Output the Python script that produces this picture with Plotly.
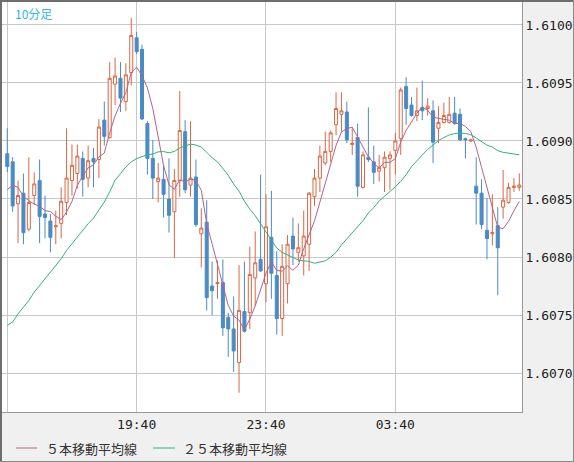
"""10分足チャート（ローソク足 + 5本/25本移動平均線）を Plotly で再現する。"""
import pandas as pd
import plotly.graph_objects as go

_MONO = "DejaVu Sans Mono, monospace"
_JP = "Noto Sans CJK JP, sans-serif"

ORANGE = "#dc6640"
BLUE = "#4a8bc4"
PINK = "#b4628e"
GREEN = "#2eb47b"
GRID = "#c8c8c8"
PANEL = "#f0f0f0"

# --- data -------------------------------------------------------------------
times = pd.date_range("2024-01-01 15:40", periods=96, freq="10min")

opens = [1.60889, 1.60882, 1.60846, 1.60855, 1.60824, 1.60853, 1.60866, 1.60837, 1.60831, 1.60826,
         1.60829, 1.60847, 1.60866, 1.60872, 1.60885, 1.60868, 1.60885, 1.60884, 1.60918, 1.60903,
         1.60949, 1.60954, 1.60934, 1.60959, 1.60989, 1.60979, 1.60915, 1.60885, 1.60865, 1.60867,
         1.60850, 1.60839, 1.60866, 1.60908, 1.60862, 1.60869, 1.60820, 1.60830, 1.60775, 1.60777,
         1.60778, 1.60748, 1.60738, 1.60709, 1.60753, 1.60752, 1.60782, 1.60798, 1.60777, 1.60817,
         1.60784, 1.60747, 1.60777, 1.60818, 1.60804, 1.60801, 1.60811, 1.60852, 1.60868, 1.60881,
         1.60891, 1.60914, 1.60923, 1.60925, 1.60897, 1.60903, 1.60860, 1.60886, 1.60882, 1.60874,
         1.60877, 1.60885, 1.60892, 1.60902, 1.60947, 1.60931, 1.60922, 1.60929, 1.60928, 1.60926,
         1.60911, 1.60916, 1.60916, 1.60924, 1.60923, 1.60902, 1.60900, 1.60861, 1.60855, 1.60823,
         1.60820, 1.60827, 1.60843, 1.60847, 1.60860, 1.60860]

highs = [1.60911, 1.60886, 1.60866, 1.60872, 1.60886, 1.60873, 1.60884, 1.60853, 1.60837, 1.60840,
         1.60860, 1.60911, 1.60897, 1.60897, 1.60891, 1.60896, 1.60894, 1.60919, 1.60934, 1.60968,
         1.60972, 1.60968, 1.60967, 1.61006, 1.60994, 1.60983, 1.60917, 1.60901, 1.60881, 1.60879,
         1.60885, 1.60876, 1.60943, 1.60918, 1.60917, 1.60884, 1.60842, 1.60849, 1.60796, 1.60797,
         1.60798, 1.60752, 1.60766, 1.60793, 1.60796, 1.60809, 1.60822, 1.60871, 1.60854, 1.60857,
         1.60805, 1.60811, 1.60819, 1.60834, 1.60829, 1.60840, 1.60856, 1.60876, 1.60896, 1.60908,
         1.60909, 1.60942, 1.60942, 1.60934, 1.60911, 1.60915, 1.60891, 1.60929, 1.60896, 1.60888,
         1.60891, 1.60891, 1.60907, 1.60946, 1.60955, 1.60938, 1.60946, 1.60952, 1.60937, 1.60935,
         1.60930, 1.60933, 1.60938, 1.60938, 1.60928, 1.60903, 1.60902, 1.60886, 1.60867, 1.60851,
         1.60854, 1.60843, 1.60875, 1.60864, 1.60868, 1.60872]

lows = [1.60873, 1.60839, 1.60812, 1.60811, 1.60822, 1.60845, 1.60812, 1.60816, 1.60804, 1.60811,
        1.60816, 1.60836, 1.60853, 1.60859, 1.60852, 1.60860, 1.60860, 1.60868, 1.60896, 1.60902,
        1.60931, 1.60925, 1.60926, 1.60948, 1.60975, 1.60918, 1.60871, 1.60850, 1.60847, 1.60834,
        1.60821, 1.60799, 1.60852, 1.60855, 1.60852, 1.60826, 1.60791, 1.60754, 1.60750, 1.60764,
        1.60732, 1.60714, 1.60701, 1.60683, 1.60735, 1.60738, 1.60758, 1.60787, 1.60761, 1.60764,
        1.60733, 1.60732, 1.60760, 1.60793, 1.60796, 1.60784, 1.60788, 1.60844, 1.60856, 1.60879,
        1.60882, 1.60905, 1.60908, 1.60898, 1.60888, 1.60852, 1.60859, 1.60882, 1.60863, 1.60865,
        1.60856, 1.60858, 1.60871, 1.60888, 1.60914, 1.60921, 1.60917, 1.60918, 1.60922, 1.60881,
        1.60898, 1.60915, 1.60915, 1.60914, 1.60900, 1.60885, 1.60899, 1.60828, 1.60824, 1.60798,
        1.60810, 1.60767, 1.60833, 1.60846, 1.60856, 1.60857]

closes = [1.60878, 1.60844, 1.60853, 1.60821, 1.60847, 1.60863, 1.60835, 1.60834, 1.60817, 1.60827,
          1.60848, 1.60868, 1.60879, 1.60887, 1.60867, 1.60883, 1.60882, 1.60912, 1.60904, 1.60954,
          1.60956, 1.60937, 1.60957, 1.60991, 1.60977, 1.60919, 1.60885, 1.60868, 1.60868, 1.60854,
          1.60836, 1.60866, 1.60909, 1.60858, 1.60868, 1.60828, 1.60825, 1.60765, 1.60771, 1.60778,
          1.60739, 1.60738, 1.60719, 1.60754, 1.60736, 1.60785, 1.60795, 1.60788, 1.60826, 1.60786,
          1.60747, 1.60792, 1.60811, 1.60807, 1.60808, 1.60818, 1.60855, 1.60868, 1.60887, 1.60891,
          1.60907, 1.60928, 1.60926, 1.60901, 1.60898, 1.60861, 1.60888, 1.60884, 1.60873, 1.60877,
          1.60886, 1.60888, 1.60900, 1.60944, 1.60928, 1.60922, 1.60926, 1.60926, 1.60930, 1.60899,
          1.60916, 1.60922, 1.60923, 1.60915, 1.60901, 1.60901, 1.60901, 1.60855, 1.60828, 1.60816,
          1.60821, 1.60808, 1.60849, 1.60860, 1.60861, 1.60862]

ma5 = [1.608580, 1.608620, 1.608600, 1.608520, 1.608486, 1.608456, 1.608438, 1.608400, 1.608392, 1.608352,
       1.608322, 1.608388, 1.608478, 1.608618, 1.608698, 1.608768, 1.608796, 1.608862, 1.608896, 1.609070,
       1.609216, 1.609326, 1.609416, 1.609590, 1.609636, 1.609562, 1.609458, 1.609280, 1.609034, 1.608788,
       1.608622, 1.608584, 1.608666, 1.608646, 1.608674, 1.608658, 1.608576, 1.608288, 1.608114, 1.607934,
       1.607756, 1.607582, 1.607490, 1.607456, 1.607372, 1.607464, 1.607578, 1.607716, 1.607860, 1.607960,
       1.607884, 1.607878, 1.607924, 1.607886, 1.607930, 1.608072, 1.608198, 1.608312, 1.608472, 1.608638,
       1.608816, 1.608962, 1.609078, 1.609106, 1.609120, 1.609028, 1.608948, 1.608864, 1.608808, 1.608766,
       1.608816, 1.608816, 1.608848, 1.608990, 1.609092, 1.609164, 1.609240, 1.609292, 1.609264, 1.609206,
       1.609194, 1.609186, 1.609180, 1.609150, 1.609154, 1.609124, 1.609082, 1.608946, 1.608772, 1.608602,
       1.608442, 1.608256, 1.608244, 1.608308, 1.608398, 1.608480]

ma25 = [1.607410, 1.607440, 1.607510, 1.607570, 1.607625, 1.607697, 1.607755, 1.607812, 1.607864, 1.607927,
        1.607985, 1.608057, 1.608115, 1.608172, 1.608230, 1.608287, 1.608336, 1.608402, 1.608474, 1.608561,
        1.608661, 1.608719, 1.608777, 1.608820, 1.608848, 1.608865, 1.608881, 1.608887, 1.608906, 1.608909,
        1.608898, 1.608910, 1.608940, 1.608957, 1.608973, 1.608965, 1.608948, 1.608902, 1.608856, 1.608820,
        1.608763, 1.608705, 1.608628, 1.608568, 1.608481, 1.608412, 1.608356, 1.608288, 1.608222, 1.608146,
        1.608077, 1.608040, 1.608017, 1.607992, 1.607974, 1.607967, 1.607962, 1.607946, 1.607958, 1.607967,
        1.607998, 1.608040, 1.608104, 1.608156, 1.608204, 1.608253, 1.608313, 1.608379, 1.608426, 1.608483,
        1.608523, 1.608560, 1.608605, 1.608652, 1.608709, 1.608779, 1.608833, 1.608879, 1.608928, 1.608964,
        1.609004, 1.609030, 1.609052, 1.609064, 1.609068, 1.609065, 1.609054, 1.609026, 1.608997, 1.608964,
        1.608948, 1.608916, 1.608902, 1.608897, 1.608890, 1.608881]

y_ticks = [1.6070, 1.6075, 1.6080, 1.6085, 1.6090, 1.6095, 1.6100]
x_ticks = ["2024-01-01 15:40", "2024-01-01 19:40", "2024-01-01 23:40", "2024-01-02 03:40"]
x_tick_labels = ["", "19:40", "23:40", "03:40"]
legend_names = ["５本移動平均線", "２５本移動平均線"]

# --- layout helpers (pixel -> paper) -----------------------------------------
W, H = 574, 462
L, R, T, B = 2, 52, 2, 50
PW, PH = W - L - R, H - T - B


def px(x):
    return (x - L) / PW


def py(y):
    return (H - B - y) / PH


fig = go.Figure()
fig.add_trace(go.Candlestick(
    x=times, open=opens, high=highs, low=lows, close=closes,
    increasing=dict(line=dict(color=ORANGE, width=1), fillcolor="white"),
    decreasing=dict(line=dict(color=BLUE, width=1), fillcolor=BLUE),
    whiskerwidth=0, showlegend=False, hoverinfo="skip"))
fig.add_trace(go.Scatter(x=times, y=ma5, mode="lines", line=dict(color=PINK, width=1),
                         name=legend_names[0], showlegend=False))
fig.add_trace(go.Scatter(x=times, y=ma25, mode="lines", line=dict(color=GREEN, width=1),
                         name=legend_names[1], showlegend=False))

fig.update_layout(
    width=W, height=H,
    margin=dict(l=L, r=R, t=T, b=B, pad=0),
    paper_bgcolor=PANEL, plot_bgcolor="white",
    font=dict(family=_MONO, size=13, color="#222222"),
    showlegend=False,
    xaxis_rangeslider_visible=False,
    boxgap=0.2,
)
fig.update_xaxes(
    range=["2024-01-01 15:30:12", "2024-01-02 07:35"],
    tickvals=x_ticks, ticktext=x_tick_labels,
    showgrid=True, gridcolor=GRID, gridwidth=1,
    showline=True, linecolor="#999999", linewidth=1,
    ticks="", zeroline=False, fixedrange=True,
)
fig.update_yaxes(
    range=[1.606664, 1.610198], side="right",
    tickvals=y_ticks, tickformat=".4f",
    showgrid=True, gridcolor=GRID, gridwidth=1,
    showline=True, linecolor="#999999", linewidth=1,
    ticks="", zeroline=False, fixedrange=True,
)

# title (top-left, inside the plot)
fig.add_annotation(text="10分足", xref="paper", yref="paper", x=px(13), y=py(3),
                   xanchor="left", yanchor="top", showarrow=False,
                   font=dict(family=_JP, size=12, color="#33b5e8"))

# legend at the bottom, drawn by hand to match the small line samples
legend_colors = [PINK, GREEN]
legend_line_x = [(16, 37), (153, 175)]
legend_text_x = [44, 181]
for name, color, (x0, x1), tx in zip(legend_names, legend_colors, legend_line_x, legend_text_x):
    fig.add_shape(type="line", xref="paper", yref="paper", x0=px(x0), x1=px(x1),
                  y0=py(448), y1=py(448), line=dict(color=color, width=1))
    fig.add_annotation(text=name, xref="paper", yref="paper", x=px(tx), y=py(448),
                       xanchor="left", yanchor="middle", showarrow=False,
                       font=dict(family=_JP, size=13, color="#333333"))

# outer frame
fig.add_shape(type="line", xref="paper", yref="paper", x0=px(0), x1=px(W), y0=py(1), y1=py(1),
              line=dict(color="#6e6e6e", width=2))
fig.add_shape(type="line", xref="paper", yref="paper", x0=px(1), x1=px(1), y0=py(0), y1=py(H),
              line=dict(color="#6e6e6e", width=2))
fig.add_shape(type="line", xref="paper", yref="paper", x0=px(0), x1=px(W), y0=py(H - 0.5), y1=py(H - 0.5),
              line=dict(color="#8a8a8a", width=1))
fig.add_shape(type="line", xref="paper", yref="paper", x0=px(W - 0.5), x1=px(W - 0.5), y0=py(0), y1=py(H),
              line=dict(color="#8a8a8a", width=1))

# ページ既定の余白 (8px) を消して図を左上に揃える
fig.write_html("out.html", config={"displayModeBar": False},
               post_script="document.body.style.margin='0';")
